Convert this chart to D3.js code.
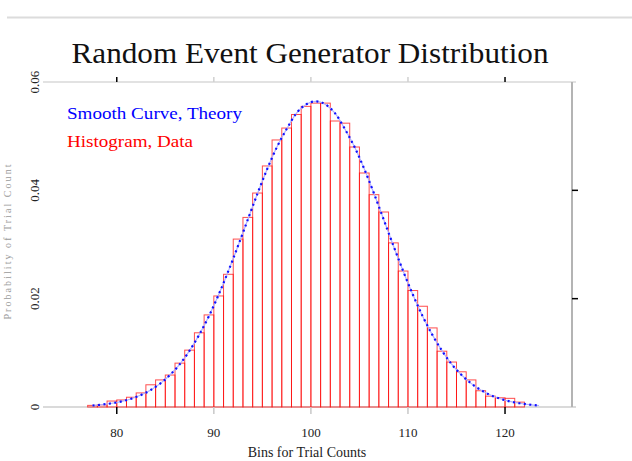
<!DOCTYPE html>
<html>
<head>
<meta charset="utf-8">
<script src="https://cdn.jsdelivr.net/npm/d3@7"></script>
<style>
  body { margin: 0; background: #fff; }
  text { font-family: "Liberation Serif", "DejaVu Serif", serif; }
</style>
</head>
<body>
<script>
// histogram: probability observed for each trial count (bin [k, k+1))
const binStarts = d3.range(77, 122);
const histValues = [
    0.0003, 0.0004, 0.0011, 0.0013, 0.0018, 0.0026, 0.0041, 0.0050, 0.0059, 0.0081,
    0.0105, 0.0137, 0.0170, 0.0205, 0.0245, 0.0310, 0.0350, 0.0395, 0.0445, 0.0493,
    0.0515, 0.0540, 0.0555, 0.0561, 0.0561, 0.0528, 0.0524, 0.0480, 0.0432, 0.0392,
    0.0360, 0.0303, 0.0251, 0.0215, 0.0186, 0.0146, 0.0103, 0.0083, 0.0065, 0.0050,
    0.0030, 0.0020, 0.0017, 0.0016, 0.0009
];

// theory curve, plotted at bin centres
const curveCounts = d3.range(77, 124);
const curveValues = [
    0.00028, 0.00045, 0.00069, 0.00103, 0.00153, 0.00221, 0.00314, 0.00436, 0.00595, 0.00791,
    0.01040, 0.01336, 0.01681, 0.02076, 0.02512, 0.02978, 0.03460, 0.03942, 0.04394, 0.04799,
    0.05131, 0.05421, 0.05586, 0.05642, 0.05586, 0.05421, 0.05131, 0.04799, 0.04394, 0.03942,
    0.03460, 0.02978, 0.02512, 0.02076, 0.01681, 0.01336, 0.01040, 0.00791, 0.00595, 0.00436,
    0.00314, 0.00221, 0.00153, 0.00103, 0.00069, 0.00045, 0.00028
];

const xTicks = [80, 90, 100, 110, 120];
const yTicks = [0, 0.02, 0.04, 0.06];
const yTickLabels = ["0", "0.02", "0.04", "0.06"];

const width = 632,
    height = 461,
    margin = { top: 82, right: 60, bottom: 54, left: 43 };

const x = d3.scaleLinear()
    .domain([72.4, 126.9])
    .range([margin.left, width - margin.right]);

const y = d3.scaleLinear()
    .domain([0, 0.06])
    .range([height - margin.bottom, margin.top]);

const svg = d3.select("body").append("svg")
    .attr("width", width)
    .attr("height", height);

// page rule above the chart
svg.append("line")
    .attr("x1", 7).attr("x2", width)
    .attr("y1", 17.5).attr("y2", 17.5)
    .attr("stroke", "#dcdcdc")
    .attr("stroke-width", 2);

svg.append("text")
    .attr("x", 310)
    .attr("y", 63)
    .attr("text-anchor", "middle")
    .attr("font-size", 29)
    .attr("textLength", 477)
    .attr("lengthAdjust", "spacingAndGlyphs")
    .attr("fill", "#111")
    .text("Random Event Generator Distribution");

// frame
const x0 = x.range()[0], x1 = x.range()[1], yb = y.range()[0], yt = y.range()[1];

svg.append("line")
    .attr("x1", x0).attr("x2", x1 + 4)
    .attr("y1", yt).attr("y2", yt)
    .attr("stroke", "#e2e2e2").attr("stroke-width", 2);

svg.append("line")
    .attr("x1", x0).attr("x2", x1 + 4)
    .attr("y1", yb).attr("y2", yb)
    .attr("stroke", "#dadada").attr("stroke-width", 2);

svg.append("line")
    .attr("x1", x1).attr("x2", x1)
    .attr("y1", yt).attr("y2", yb)
    .attr("stroke", "#b4b4b4").attr("stroke-width", 2);

// histogram
svg.append("g")
    .selectAll("rect")
    .data(binStarts.map((k, i) => ({ k: k, v: histValues[i] })))
    .join("rect")
    .attr("x", d => x(d.k))
    .attr("width", d => x(d.k + 1) - x(d.k))
    .attr("y", d => y(d.v))
    .attr("height", d => y(0) - y(d.v))
    .attr("fill", "none")
    .attr("stroke", "#ff0000")
    .attr("stroke-opacity", 0.7)
    .attr("stroke-width", 1);

// theory curve
const line = d3.line()
    .x((d, i) => x(curveCounts[i] + 0.5))
    .y(d => y(d))
    .curve(d3.curveMonotoneX);

svg.append("path")
    .datum(curveValues)
    .attr("d", line)
    .attr("fill", "none")
    .attr("stroke", "#b0b0ff")
    .attr("stroke-width", 1.2);

svg.append("path")
    .datum(curveValues)
    .attr("d", line)
    .attr("fill", "none")
    .attr("stroke", "#1010ff")
    .attr("stroke-width", 2.2)
    .attr("stroke-dasharray", "2,3.5");

// bottom axis ticks
svg.append("g")
    .selectAll("line")
    .data(xTicks)
    .join("line")
    .attr("x1", d => x(d)).attr("x2", d => x(d))
    .attr("y1", yb).attr("y2", yb + 7)
    .attr("stroke", d => (d === 80 || d === 120) ? "#000" : "#c8c8c8")
    .attr("stroke-width", 1.5);

svg.append("g")
    .selectAll("text")
    .data(xTicks)
    .join("text")
    .attr("x", d => x(d))
    .attr("y", yb + 30)
    .attr("text-anchor", "middle")
    .attr("font-size", 13)
    .attr("fill", "#222")
    .text(d => d);

// top axis ticks
svg.append("g")
    .selectAll("line")
    .data(xTicks)
    .join("line")
    .attr("x1", d => x(d)).attr("x2", d => x(d))
    .attr("y1", yt).attr("y2", yt - 5)
    .attr("stroke", d => (d === 80 || d === 120) ? "#000" : "#d0d0d0")
    .attr("stroke-width", 1.5);

// right axis ticks
svg.append("g")
    .selectAll("line")
    .data(yTicks.slice(1, 3))
    .join("line")
    .attr("x1", x1).attr("x2", x1 + 6)
    .attr("y1", d => y(d)).attr("y2", d => y(d))
    .attr("stroke", "#000")
    .attr("stroke-width", 1.5);

// left tick labels, rotated
svg.append("g")
    .selectAll("text")
    .data(yTicks)
    .join("text")
    .attr("transform", d => "translate(39," + y(d) + ") rotate(-90)")
    .attr("text-anchor", "middle")
    .attr("font-size", 13)
    .attr("fill", "#222")
    .text((d, i) => yTickLabels[i]);

// axis titles
svg.append("text")
    .attr("x", 307)
    .attr("y", 457)
    .attr("text-anchor", "middle")
    .attr("font-size", 14)
    .attr("fill", "#222")
    .text("Bins for Trial Counts");

svg.append("text")
    .attr("transform", "translate(11,242) rotate(-90)")
    .attr("text-anchor", "middle")
    .attr("font-size", 10)
    .attr("fill", "#9a9a9a")
    .attr("textLength", 155)
    .text("Probability of Trial Count");

// legend
svg.append("text")
    .attr("x", 67).attr("y", 119)
    .attr("font-size", 17)
    .attr("textLength", 175)
    .attr("lengthAdjust", "spacingAndGlyphs")
    .attr("fill", "#0000ff")
    .text("Smooth Curve, Theory");

svg.append("text")
    .attr("x", 67).attr("y", 147)
    .attr("font-size", 17)
    .attr("textLength", 126)
    .attr("lengthAdjust", "spacingAndGlyphs")
    .attr("fill", "#ff0000")
    .text("Histogram, Data");
</script>
</body>
</html>
